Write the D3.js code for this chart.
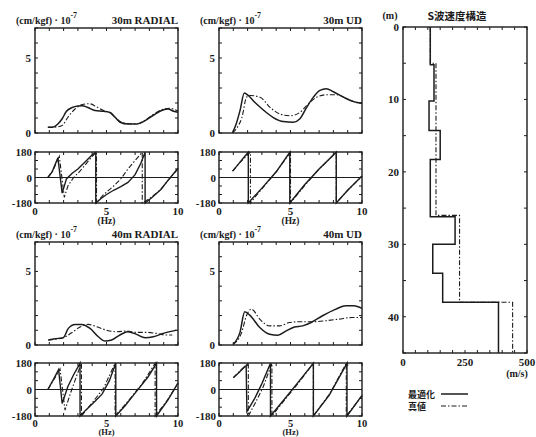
<!DOCTYPE html>
<html><head><meta charset="utf-8">
<script src="https://cdn.jsdelivr.net/npm/d3@7"></script>
<style>
html,body{margin:0;padding:0;background:#fff;}
text{font-family:"Liberation Serif","DejaVu Serif",serif;font-weight:bold;fill:#1a1a1a;}
.cjk{font-family:"Noto Sans CJK JP","Noto Sans CJK SC",sans-serif;font-weight:bold;}
</style></head>
<body><svg id="c" width="536" height="437"></svg>
<script>
// ---------- DATA ----------
// amplitude of transfer functions [Hz, (cm/kgf)·10^-7]
const amp30R_opt  = [[0.9,0.38],[1.3,0.4],[1.6,0.6],[1.9,0.95],[2.2,1.45],[2.6,1.7],[3.0,1.8],[3.3,1.82],[3.7,1.7],[4.2,1.5],[4.8,1.45],[5.2,1.38],[5.6,1.05],[5.95,0.72],[6.5,0.6],[7.1,0.6],[7.7,0.82],[8.3,1.2],[8.9,1.52],[9.3,1.6],[9.7,1.45],[10,1.38]];
const amp30R_true = [[0.9,0.38],[1.5,0.4],[1.9,0.5],[2.3,1.05],[2.8,1.6],[3.3,1.9],[3.8,1.95],[4.3,1.75],[4.8,1.5],[5.3,1.35],[5.7,0.95],[6.1,0.7],[6.6,0.62],[7.1,0.62],[7.7,0.85],[8.3,1.25],[9.0,1.6],[9.4,1.65],[10,1.45]];
const amp30U_opt  = [[0.95,0.02],[1.2,0.6],[1.47,1.5],[1.77,2.66],[2.05,2.5],[2.5,2.05],[2.9,1.7],[3.4,1.3],[3.8,1.03],[4.5,0.76],[5.2,0.72],[5.66,0.95],[6.13,1.71],[6.6,2.39],[7.06,2.84],[7.5,2.95],[8.0,2.75],[8.7,2.39],[9.4,2.09],[10,1.98]];
const amp30U_true = [[0.95,0.02],[1.3,0.4],[1.6,1.03],[1.93,2.39],[2.17,2.5],[2.87,2.39],[3.57,1.71],[4.27,1.26],[4.97,1.15],[5.66,1.37],[6.13,1.82],[6.83,2.39],[7.53,2.55],[8.24,2.55],[8.93,2.28],[9.6,2.05],[10,1.98]];
const amp40R_opt  = [[0.93,0.34],[1.3,0.4],[1.63,0.45],[1.98,0.5],[2.33,1.13],[2.8,1.4],[3.26,1.4],[3.85,1.13],[4.43,0.56],[4.9,0.27],[5.36,0.34],[5.94,0.68],[6.5,0.9],[7.1,0.72],[7.7,0.5],[8.27,0.56],[8.97,0.79],[9.9,1.01]];
const amp40R_true = [[0.93,0.34],[1.6,0.42],[2.0,0.5],[2.56,0.83],[3.15,1.22],[3.73,1.4],[4.31,1.24],[5.0,1.01],[5.7,0.9],[6.4,0.95],[7.1,0.86],[7.8,0.86],[8.5,0.79],[9.2,0.68],[9.6,0.68]];
const amp40U_opt  = [[0.99,0.05],[1.46,0.84],[1.8,2.26],[2.15,2.03],[2.85,1.19],[3.54,0.73],[4.12,0.66],[4.7,0.96],[5.28,1.23],[5.85,1.3],[6.44,1.53],[7.24,1.99],[8.17,2.44],[8.87,2.67],[9.44,2.67],[10,2.49]];
const amp40U_true = [[0.99,0.05],[1.58,0.84],[1.92,1.99],[2.27,2.44],[2.85,1.76],[3.54,1.3],[4.24,1.3],[4.93,1.53],[5.63,1.58],[6.55,1.58],[7.47,1.65],[8.4,1.76],[9.3,1.87],[10,1.87]];
// phase [Hz, degrees]
const ph30R_opt  = [[0.9,0],[1.2,40],[1.6,140],[1.9,-110],[2.2,-10],[2.6,30],[3.0,60],[3.5,110],[4.0,160],[4.25,178],[4.25,-180],[4.6,-150],[5.0,-120],[5.5,-90],[6.0,-65],[6.5,-35],[7.0,20],[7.4,100],[7.7,178],[7.7,-180],[8.2,-140],[8.8,-85],[9.3,-20],[10,65]];
const ph30R_true = [[0.9,0],[1.3,60],[1.7,150],[2.05,-140],[2.3,-60],[2.7,0],[3.1,40],[3.6,100],[4.0,150],[4.3,178],[4.3,-180],[4.8,-120],[5.5,-60],[6.0,-10],[6.5,60],[7.0,120],[7.5,178],[7.5,-180],[8.0,-150],[8.8,-85],[9.3,-20],[10,60]];
const ph30U_opt  = [[0.95,45],[1.4,100],[1.85,155],[2.05,178],[2.05,-180],[3.0,-75],[4.0,40],[4.95,178],[4.95,-180],[6.0,-50],[7.0,60],[8.2,178],[8.2,-180],[9.0,-90],[10,10]];
const ph30U_true = [[0.95,45],[1.5,110],[2.1,170],[2.2,178],[2.2,-180],[2.5,-140],[3.0,-80],[4.0,40],[5.0,178],[5.0,-180],[6.0,-55],[7.0,60],[8.2,178],[8.2,-180],[9.0,-90],[10,10]];
const ph40R_opt  = [[0.9,0],[1.3,70],[1.65,135],[1.9,-95],[2.3,20],[2.7,100],[3.15,178],[3.15,-180],[3.6,-135],[4.2,-80],[4.7,-30],[5.2,60],[5.65,178],[5.65,-180],[6.3,-110],[7.0,-25],[7.9,85],[8.5,178],[8.5,-180],[9.3,-70],[10,45]];
const ph40R_true = [[0.9,0],[1.4,80],[1.75,140],[2.1,-140],[2.5,-20],[2.9,90],[3.25,178],[3.25,-180],[4.0,-90],[4.8,10],[5.6,178],[5.6,-180],[6.5,-80],[7.5,40],[8.4,178],[8.4,-180],[9.2,-80],[10,40]];
const ph40U_opt  = [[1.0,80],[1.4,115],[1.8,155],[1.9,160],[1.95,-150],[2.5,-60],[3.0,40],[3.6,178],[3.6,-180],[4.5,-75],[5.5,45],[6.6,178],[6.6,-180],[7.7,-40],[8.95,178],[8.95,-180],[10,-40]];
const ph40U_true = [[1.0,80],[1.5,130],[1.95,170],[2.05,178],[2.05,-180],[2.6,-80],[3.1,20],[3.7,178],[3.7,-180],[4.6,-70],[5.6,50],[6.6,178],[6.6,-180],[7.8,-20],[8.9,178],[8.9,-180],[10,-45]];
// S-wave velocity structure: layer boundaries (m) and velocities (m/s)
const optDepths = [0,5.2,10.2,14.3,18.3,26.2,30,34,38,45];
const optVel    = [110,125,105,150,110,210,120,160,385];
const trueDepths = [0,5,26,38,45];
const trueVel    = [110,133,228,442];
// labels
const panelTitles = ["30m RADIAL","30m UD","40m RADIAL","40m UD"];
const ampTicks = [0,5];
const phaseTicks = [180,0,-180];
const freqTicks = [0,5,10];
const depthTicks = [0,10,20,30,40];
const velTicks = [0,250,500];
const legendLabels = ["最適化","真値"];

// ---------- DRAW ----------
const svg = d3.select("#c");
svg.append("rect").attr("width",536).attr("height",437).attr("fill","#fff");
const INK = "#1c1c1c";
const DASH = "5,2,1.5,2";

function frame(g, x, y, xt, yt, tl){
  const [x0,x1] = x.range(), [y1,y0] = y.range();
  g.append("rect").attr("x",x0).attr("y",y0).attr("width",x1-x0).attr("height",y1-y0)
    .attr("fill","none").attr("stroke",INK).attr("stroke-width",1.4);
  xt.forEach(v=>{
    const px = x(v);
    g.append("line").attr("x1",px).attr("x2",px).attr("y1",y0).attr("y2",y0+tl).attr("stroke",INK);
    g.append("line").attr("x1",px).attr("x2",px).attr("y1",y1).attr("y2",y1-tl).attr("stroke",INK);
  });
  yt.forEach(v=>{
    const py = y(v);
    g.append("line").attr("x1",x0).attr("x2",x0+tl).attr("y1",py).attr("y2",py).attr("stroke",INK);
    g.append("line").attr("x1",x1).attr("x2",x1-tl).attr("y1",py).attr("y2",py).attr("stroke",INK);
  });
}

const cols = [[35,178],[219,362]];
const ampRows = [[28,133],[242,345]];
const phRows = [[152,203],[363,416]];
const ampSets = [[amp30R_opt,amp30R_true],[amp30U_opt,amp30U_true],[amp40R_opt,amp40R_true],[amp40U_opt,amp40U_true]];
const phSets = [[ph30R_opt,ph30R_true],[ph30U_opt,ph30U_true],[ph40R_opt,ph40R_true],[ph40U_opt,ph40U_true]];

for(let i=0;i<4;i++){
  const c = cols[i%2], r = Math.floor(i/2);
  const g = svg.append("g");
  // amplitude
  const x = d3.scaleLinear().domain([0,10]).range(c);
  const ya = d3.scaleLinear().domain([0,7]).range([ampRows[r][1],ampRows[r][0]]);
  frame(g, x, ya, d3.range(0,11), d3.range(0,8), 3);
  const la = d3.line().x(d=>x(d[0])).y(d=>ya(d[1])).curve(d3.curveMonotoneX);
  g.append("path").attr("d",la(ampSets[i][1])).attr("fill","none").attr("stroke",INK).attr("stroke-width",1.1).attr("stroke-dasharray",DASH);
  g.append("path").attr("d",la(ampSets[i][0])).attr("fill","none").attr("stroke",INK).attr("stroke-width",1.5);
  ampTicks.forEach(v=>g.append("text").attr("x",c[0]-4).attr("y",ya(v)+4).attr("text-anchor","end").attr("font-size",11).text(v));
  // header
  const ht = g.append("text").attr("x",c[0]-19).attr("y",ampRows[r][0]-4).attr("font-size",10);
  ht.append("tspan").text("(cm/kgf) · 10");
  ht.append("tspan").attr("dy",-6).attr("font-size",8).text("-7");
  g.append("text").attr("x",c[1]).attr("y",ampRows[r][0]-4).attr("text-anchor","end").attr("font-size",11).text(panelTitles[i]);
  // phase
  const yp = d3.scaleLinear().domain([-180,180]).range([phRows[r][1],phRows[r][0]]);
  frame(g, x, yp, d3.range(0,11), d3.range(-180,181,60), 3);
  g.append("line").attr("x1",c[0]).attr("x2",c[1]).attr("y1",yp(0)).attr("y2",yp(0)).attr("stroke",INK).attr("stroke-width",1.2);
  const lp = d3.line().x(d=>x(d[0])).y(d=>yp(d[1]));
  g.append("path").attr("d",lp(phSets[i][1])).attr("fill","none").attr("stroke",INK).attr("stroke-width",1.1).attr("stroke-dasharray",DASH);
  g.append("path").attr("d",lp(phSets[i][0])).attr("fill","none").attr("stroke",INK).attr("stroke-width",1.4);
  phaseTicks.forEach(v=>g.append("text").attr("x",c[0]-3).attr("y",yp(v)+4).attr("text-anchor","end").attr("font-size",11).text(v));
  freqTicks.forEach(v=>g.append("text").attr("x",x(v)).attr("y",phRows[r][1]+(r?10.5:12)).attr("text-anchor","middle").attr("font-size",r?10.5:11).text(v));
  g.append("text").attr("x",x(5)).attr("y",phRows[r][1]+(r?19:21)).attr("text-anchor","middle").attr("font-size",r?8.5:9.5).text("(Hz)");
}

// velocity panel
const gv = svg.append("g");
const xv = d3.scaleLinear().domain([0,500]).range([403,527]);
const yv = d3.scaleLinear().domain([45,0]).range([353,27]);
frame(gv, xv, yv, d3.range(0,501,50), d3.range(0,46,5), 3);
function steps(depths, vel){
  const pts=[];
  vel.forEach((v,k)=>{pts.push([v,depths[k]]);pts.push([v,depths[k+1]]);});
  return pts;
}
const lv = d3.line().x(d=>xv(d[0])).y(d=>yv(d[1]));
gv.append("path").attr("d",lv(steps(trueDepths,trueVel))).attr("fill","none").attr("stroke",INK).attr("stroke-width",1.1).attr("stroke-dasharray",DASH);
gv.append("path").attr("d",lv(steps(optDepths,optVel))).attr("fill","none").attr("stroke",INK).attr("stroke-width",1.5);
depthTicks.forEach(v=>gv.append("text").attr("x",399).attr("y",yv(v)+4).attr("text-anchor","end").attr("font-size",11).text(v));
velTicks.forEach(v=>gv.append("text").attr("x",xv(v)).attr("y",366).attr("text-anchor","middle").attr("font-size",11).text(v));
gv.append("text").attr("x",517).attr("y",377).attr("text-anchor","middle").attr("font-size",10).text("(m/s)");
gv.append("text").attr("x",390).attr("y",19).attr("text-anchor","middle").attr("font-size",10).text("(m)");
gv.append("text").attr("class","cjk").attr("x",457).attr("y",20).attr("text-anchor","middle").attr("font-size",10.5).text("S波速度構造");
// legend
legendLabels.forEach((t,k)=>{
  const yy = 394 + k*12;
  gv.append("text").attr("class","cjk").attr("x",408).attr("y",yy+3.5).attr("font-size",9).text(t);
  gv.append("line").attr("x1",441).attr("x2",468).attr("y1",yy).attr("y2",yy).attr("stroke",INK)
    .attr("stroke-width",k?1.1:1.5).attr("stroke-dasharray",k?DASH:null);
});
</script></body></html>
